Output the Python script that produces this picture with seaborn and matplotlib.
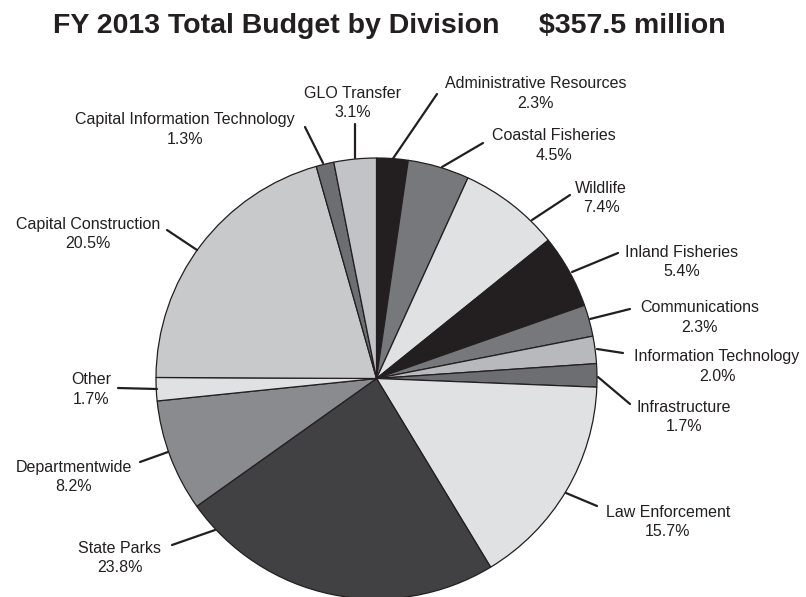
import numpy as np
import matplotlib
matplotlib.use("Agg")
import matplotlib.pyplot as plt
import seaborn as sns

# data, clockwise from 12 o'clock
divisions = ["Administrative Resources", "Coastal Fisheries", "Wildlife",
             "Inland Fisheries", "Communications", "Information Technology",
             "Infrastructure", "Law Enforcement", "State Parks",
             "Departmentwide", "Other", "Capital Construction",
             "Capital Information Technology", "GLO Transfer"]
shares = [2.3, 4.5, 7.4, 5.4, 2.3, 2.0, 1.7, 15.7, 23.8, 8.2, 1.7, 20.5, 1.3, 3.1]

slice_colors = ["#231f20", "#77787b", "#e0e1e3", "#231f20", "#77787b", "#b8b9bc",
                "#6d6e71", "#e0e1e3", "#414042", "#8a8b8e", "#e0e1e3", "#c8c9cb",
                "#6d6e71", "#c2c3c6"]

# layout helpers (pixel positions in the 806x597 picture)
CX, CY, R = 376.5, 378.5, 220.5
label_px = [(536, 93.5), (554, 145.5), (601, 198), (682, 262), (700, 317.5),
            (717, 366.5), (684, 417), (668, 522), (120, 558), (74, 477),
            (91, 389.5), (88, 234), (185, 129.5), (353, 103)]
leader_px = [((392, 160), (437, 94)), ((442, 167), (483, 143)),
             ((532, 220), (570, 195)), ((572, 272), (618, 253)),
             ((590, 319), (630, 309)), ((597, 349), (623, 353)),
             ((598, 377), (630, 404)), ((566, 493), (597, 506)),
             ((215, 530), (172, 545)), ((168, 452), (140, 462)),
             ((157, 389), (118, 388)), ((197, 250), (167, 230)),
             ((323, 163), (305, 127)), ((355, 158), (355, 124))]


def to_data(p):
    return ((p[0] - CX) / R, (CY - p[1]) / R)


sns.set_theme(style="white")
plt.rcParams['font.family'] = ['Liberation Sans', 'DejaVu Sans']
ink = "#231f20"

fig = plt.figure(figsize=(8.06, 5.97), dpi=100)
ax = fig.add_axes([0, 0, 1, 1])

ax.pie(shares, colors=slice_colors, startangle=90, counterclock=False,
       radius=1, wedgeprops=dict(edgecolor=ink, linewidth=0.9))

for name, val, pos, (a, b) in zip(divisions, shares, label_px, leader_px):
    tx, ty = to_data(pos)
    ax.text(tx, ty, f"{name}\n{val:.1f}%", ha="center", va="center",
            fontsize=11.5, color=ink, linespacing=1.35)
    ax.annotate("", xy=to_data(a), xytext=to_data(b),
                arrowprops=dict(arrowstyle="-", color=ink, lw=1.6,
                                shrinkA=0, shrinkB=0))

ax.set_xlim(-CX / R, (806 - CX) / R)
ax.set_ylim((CY - 597) / R, CY / R)
ax.set_aspect("auto")
ax.axis("off")

fig.text(389 / 806, 1 - 33 / 597, "FY 2013 Total Budget by Division     $357.5 million",
         ha="center", va="baseline", fontsize=20.5, fontweight="bold", color=ink)

fig.savefig("out.png", dpi=100)
